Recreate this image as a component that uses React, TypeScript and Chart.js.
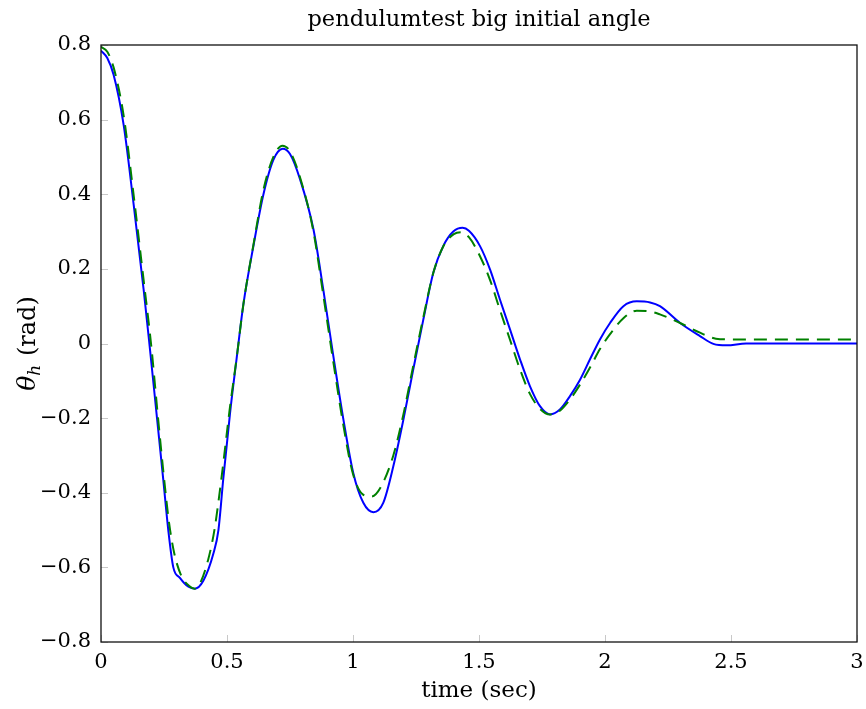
import React, { useEffect, useRef } from "react";
import { Chart, registerables } from "chart.js";

Chart.register(...registerables);

const TITLE = "pendulumtest big initial angle";
const X_LABEL = "time (sec)";
const Y_LABEL_SYM = "θ";
const Y_LABEL_SUB = "h";
const Y_LABEL_UNIT = " (rad)";

const X_MIN = 0;
const X_MAX = 3;
const X_STEP = 0.5;
const Y_MIN = -0.8;
const Y_MAX = 0.8;
const Y_STEP = 0.2;

// solid blue series (time, angle)
const blueT = [
  0, 0.025, 0.05, 0.09, 0.13, 0.17, 0.195, 0.22, 0.247, 0.267, 0.287, 0.313, 0.347, 0.373, 0.406, 0.446, 0.466,
  0.485, 0.512, 0.538, 0.565, 0.605, 0.644, 0.684, 0.721, 0.75, 0.79, 0.843, 0.882, 0.922, 0.962, 1.001,
  1.041, 1.081, 1.12, 1.16, 1.2, 1.239, 1.279, 1.319, 1.358, 1.398, 1.435, 1.46, 1.504, 1.544, 1.583,
  1.623, 1.663, 1.702, 1.742, 1.782, 1.821, 1.861, 1.901, 1.94, 1.98, 2.02, 2.073, 2.126, 2.179, 2.218,
  2.298, 2.377, 2.43, 2.483, 2.56, 3.0,
];
const blueV = [
  0.785, 0.765, 0.72, 0.585, 0.37, 0.14, -0.02, -0.185, -0.364, -0.5, -0.6, -0.628, -0.652, -0.657, -0.636, -0.563, -0.5,
  -0.364, -0.187, -0.041, 0.105, 0.262, 0.398, 0.492, 0.522, 0.508, 0.44, 0.306, 0.145, -0.034, -0.204, -0.347,
  -0.427, -0.452, -0.427, -0.329, -0.204, -0.07, 0.064, 0.19, 0.261, 0.3, 0.31, 0.302, 0.261, 0.198, 0.118,
  0.038, -0.043, -0.114, -0.168, -0.19, -0.177, -0.141, -0.097, -0.043, 0.011, 0.055, 0.1, 0.113, 0.11, 0.1,
  0.055, 0.02, -0.001, -0.005, 0, 0,
];

// dashed green series (time, angle)
const greenT = [
  0, 0.025, 0.05, 0.09, 0.13, 0.17, 0.2, 0.225, 0.25, 0.27, 0.29, 0.317, 0.35, 0.372, 0.395, 0.425, 0.45,
  0.48, 0.51, 0.54, 0.565, 0.605, 0.644, 0.684, 0.72, 0.75, 0.79, 0.843, 0.882, 0.922, 0.962, 1.0,
  1.04, 1.074, 1.11, 1.16, 1.2, 1.239, 1.279, 1.319, 1.358, 1.4, 1.43, 1.46, 1.504, 1.544, 1.583,
  1.623, 1.663, 1.702, 1.742, 1.782, 1.821, 1.861, 1.901, 1.94, 1.98, 2.02, 2.073, 2.126, 2.17, 2.218,
  2.298, 2.377, 2.44, 2.5, 3.0,
];
const greenV = [
  0.795, 0.782, 0.74, 0.61, 0.395, 0.165, -0.01, -0.19, -0.36, -0.48, -0.56, -0.62, -0.65, -0.657, -0.64, -0.58, -0.5,
  -0.35, -0.18, -0.03, 0.105, 0.265, 0.41, 0.5, 0.53, 0.515, 0.445, 0.3, 0.13, -0.05, -0.22, -0.35,
  -0.405, -0.41, -0.385, -0.3, -0.19, -0.06, 0.07, 0.19, 0.26, 0.293, 0.298, 0.285, 0.234, 0.17, 0.09,
  0.01, -0.07, -0.135, -0.175, -0.19, -0.18, -0.15, -0.11, -0.065, -0.015, 0.025, 0.068, 0.088, 0.087, 0.078,
  0.055, 0.029, 0.013, 0.011, 0.011,
];

const FONT = "'DejaVu Serif', 'Liberation Serif', serif";

const toPts = (ts: number[], vs: number[]) => ts.map((t, i) => ({ x: t, y: vs[i] }));

const framePlugin = {
  id: "frame",
  afterDatasetsDraw(chart: any) {
    const { ctx, chartArea: a, scales } = chart;
    ctx.save();
    // inner ticks
    ctx.strokeStyle = "#c8c8c8";
    ctx.lineWidth = 1;
    const tl = 7;
    scales.x.ticks.forEach((t: any) => {
      const px = Math.round(scales.x.getPixelForValue(t.value)) + 0.5;
      ctx.beginPath();
      ctx.moveTo(px, a.bottom);
      ctx.lineTo(px, a.bottom - tl);
      ctx.stroke();
    });
    scales.y.ticks.forEach((t: any) => {
      const py = Math.round(scales.y.getPixelForValue(t.value)) + 0.5;
      ctx.beginPath();
      ctx.moveTo(a.left, py);
      ctx.lineTo(a.left + tl, py);
      ctx.stroke();
    });
    // border
    ctx.strokeStyle = "#111";
    ctx.lineWidth = 1.3;
    ctx.strokeRect(a.left, a.top, a.right - a.left, a.bottom - a.top);
    // y label with subscript
    const cy = (a.top + a.bottom) / 2;
    ctx.translate(35, cy);
    ctx.rotate(-Math.PI / 2);
    ctx.fillStyle = "#000";
    ctx.textBaseline = "alphabetic";
    const f1 = `italic 25px ${FONT}`;
    const f2 = `italic 17px ${FONT}`;
    const f3 = `24px ${FONT}`;
    ctx.font = f1;
    const w1 = ctx.measureText(Y_LABEL_SYM).width;
    ctx.font = f2;
    const w2 = ctx.measureText(Y_LABEL_SUB).width;
    ctx.font = f3;
    const w3 = ctx.measureText(Y_LABEL_UNIT).width;
    let x = -(w1 + w2 + 1 + w3) / 2;
    const base = 0;
    ctx.font = f1;
    ctx.fillText(Y_LABEL_SYM, x, base);
    x += w1;
    ctx.font = f2;
    ctx.fillText(Y_LABEL_SUB, x, base + 5);
    x += w2 + 1;
    ctx.font = f3;
    ctx.fillText(Y_LABEL_UNIT, x, base);
    ctx.restore();
  },
};

export default function App() {
  const ref = useRef<HTMLCanvasElement | null>(null);
  useEffect(() => {
    document.body.style.margin = "0";
    const canvas = ref.current;
    if (!canvas) return;
    const chart = new Chart(canvas, {
      type: "line",
      data: {
        datasets: [
          {
            label: "blue",
            data: toPts(blueT, blueV),
            borderColor: "#0000ff",
            borderWidth: 2,
            pointRadius: 0,
            fill: false,
            cubicInterpolationMode: "monotone",
            order: 2,
          },
          {
            label: "green",
            data: toPts(greenT, greenV),
            borderColor: "#008000",
            borderWidth: 2,
            borderDash: [13, 8],
            pointRadius: 0,
            fill: false,
            cubicInterpolationMode: "monotone",
            order: 1,
          },
        ],
      },
      options: {
        animation: false,
        responsive: false,
        layout: { padding: { left: 0, right: 9, top: 0, bottom: 0 } },
        plugins: {
          legend: { display: false },
          tooltip: { enabled: false },
          title: {
            display: true,
            text: TITLE,
            fullSize: false,
            color: "#000",
            font: { family: FONT, size: 22.5, weight: "normal" },
            padding: { top: 7, bottom: 11 },
          },
        },
        scales: {
          x: {
            type: "linear",
            min: X_MIN,
            max: X_MAX,
            grid: { display: false, drawTicks: false },
            border: { display: false },
            ticks: {
              stepSize: X_STEP,
              color: "#000",
              padding: 8,
              maxRotation: 0,
              font: { family: FONT, size: 21 },
              callback: (v: any) => String(Number(v)),
            },
            title: {
              display: true,
              text: X_LABEL,
              color: "#000",
              font: { family: FONT, size: 23 },
              padding: { top: 0, bottom: 4 },
            },
            afterFit: (s: any) => {
              s.height = 67;
              s.paddingLeft = 0;
              s.paddingRight = 0;
            },
          },
          y: {
            type: "linear",
            min: Y_MIN,
            max: Y_MAX,
            grid: { display: false, drawTicks: false },
            border: { display: false },
            ticks: {
              stepSize: Y_STEP,
              color: "#000",
              padding: 10,
              font: { family: FONT, size: 21 },
              callback: (v: any) => {
                const n = Math.round(Number(v) * 10) / 10;
                if (n === 0) return "0";
                return n.toFixed(1).replace("-", "\u2212");
              },
            },
            afterFit: (s: any) => {
              s.width = 101;
              s.paddingTop = 0;
              s.paddingBottom = 0;
            },
          },
        },
      },
      plugins: [framePlugin],
    });
    return () => chart.destroy();
  }, []);
  return (
    <div style={{ width: 866, height: 709, background: "#fff" }}>
      <canvas ref={ref} width={866} height={709} style={{ display: "block" }} />
    </div>
  );
}
